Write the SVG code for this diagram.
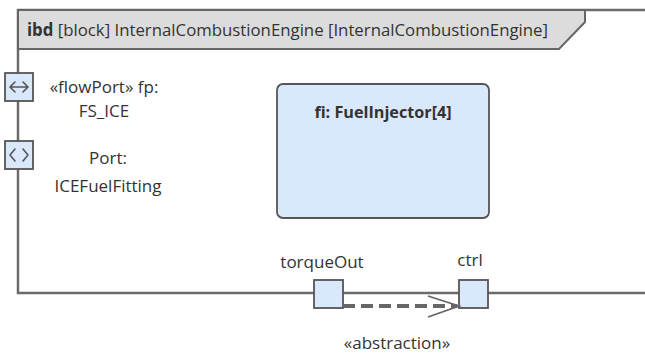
<svg xmlns="http://www.w3.org/2000/svg" width="645" height="354" viewBox="0 0 645 354">
  <style>
    text { font-family: "Open Sans", "Liberation Sans", sans-serif; font-size: 17px; fill: #333; }
    .frame { fill: none; stroke: #6b6b6b; stroke-width: 2.5; }
    .hdr { fill: #dcdcdc; stroke: #666; stroke-width: 2; }
    .port { fill: #dae8fc; stroke: #555; stroke-width: 1.8; }
    .icon { fill: none; stroke: #555; stroke-width: 1.6; stroke-linecap: round; stroke-linejoin: round; }
    .part { fill: #dae8fc; stroke: #555; stroke-width: 1.8; }
    .dep { fill: none; stroke: #666; stroke-width: 4; stroke-dasharray: 12 6; }
    .arr { fill: none; stroke: #666; stroke-width: 1.8; }
    .mid { text-anchor: middle; }
    .b { font-weight: bold; }
    .t { font-size: 16.2px; }
  </style>
  <g id="frame">
    <rect class="frame" x="18" y="10" width="700" height="283"/>
    <polygon class="hdr" points="18,10 585,10 585,22 559,49 18,49"/>
    <text x="27" y="36" textLength="521" lengthAdjust="spacingAndGlyphs"><tspan class="b">ibd</tspan> [block] InternalCombustionEngine [InternalCombustionEngine]</text>
  </g>
  <g id="fp">
    <rect class="port" x="5" y="73" width="28" height="28"/>
    <path class="icon" d="M10 87 H28 M15 82 L10 87 L15 92 M23 82 L28 87 L23 92"/>
    <text class="mid" x="104" y="93">«flowPort» fp:</text>
    <text class="mid" x="104" y="117">FS_ICE</text>
  </g>
  <g id="port">
    <rect class="port" x="5" y="141" width="28" height="28"/>
    <path class="icon" d="M15 149 L10 155 L15 161 M23 149 L28 155 L23 161"/>
    <text class="mid" x="108" y="164">Port:</text>
    <text class="mid" x="108" y="192">ICEFuelFitting</text>
  </g>
  <g id="fi">
    <rect class="part" x="277" y="84" width="212" height="134" rx="6" ry="6"/>
    <text class="mid b t" x="383" y="118">fi: FuelInjector[4]</text>
  </g>
  <g id="torqueOut">
    <rect class="port" x="314" y="280" width="29" height="28"/>
    <text class="mid" x="322" y="268">torqueOut</text>
  </g>
  <g id="ctrl">
    <rect class="port" x="459" y="280" width="29" height="28"/>
    <text class="mid" x="470" y="266">ctrl</text>
  </g>
  <g id="connectors">
    <path class="dep" d="M343 306 H457"/>
    <path class="arr" d="M428 296 L459 306 L428 317"/>
    <text class="mid" x="397" y="349">«abstraction»</text>
  </g>
</svg>
